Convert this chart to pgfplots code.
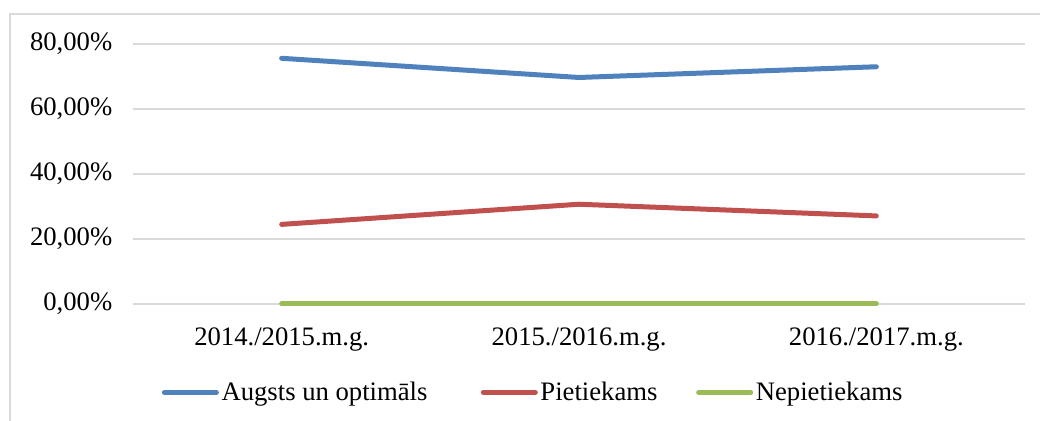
\documentclass[border=0pt]{standalone}
\usepackage{fontspec}
\setmainfont{Liberation Serif}
\usepackage{pgfplots}
\pgfplotsset{compat=1.18}
\definecolor{cblue}{HTML}{4F81BD}
\definecolor{cred}{HTML}{C0504D}
\definecolor{cgreen}{HTML}{9BBB59}
\definecolor{cgrid}{HTML}{D9D9D9}
\begin{document}
\begin{tikzpicture}
\path[use as bounding box] (0pt,0pt) rectangle (780pt,315.75pt);
\draw[cgrid, line width=1.5pt] (7.5pt,0pt) -- (7.5pt,305.25pt) -- (780pt,305.25pt);
\begin{axis}[
  at={(99.75pt,87.75pt)}, anchor=south west,
  scale only axis, width=669pt, height=195pt,
  xmin=-0.5, xmax=2.5, ymin=0, ymax=80,
  xtick={0,1,2},
  xticklabels={2014./2015.m.g.,2015./2016.m.g.,2016./2017.m.g.},
  ytick={0,20,40,60,80},
  yticklabels={{0,00\%},{20,00\%},{40,00\%},{60,00\%},{80,00\%}},
  axis line style={draw=none},
  major tick length=0pt,
  ymajorgrids, grid style={cgrid, line width=1.5pt},
  tick label style={font=\fontsize{20}{24}\selectfont},
  yticklabel style={xshift=-12pt},
  xticklabel style={yshift=-14pt},
  clip=false,
  legend columns=3,
  legend style={draw=none, fill=none, at={(0.449,-0.34)}, anchor=center,
    font=\fontsize{20}{24}\selectfont,
    /tikz/column 2/.style={column sep=38pt},
    /tikz/column 4/.style={column sep=27pt}},
  legend image code/.code={\draw[#1, line cap=round] (0pt,0pt) -- (39pt,0pt);},
]
\addplot[cblue, line width=3.75pt, line cap=round, line join=round] coordinates {(0,75.6) (1,69.7) (2,73.0)};
\addlegendentry{Augsts un optimāls}
\addplot[cred, line width=3.75pt, line cap=round, line join=round] coordinates {(0,24.5) (1,30.7) (2,27.1)};
\addlegendentry{Pietiekams}
\addplot[cgreen, line width=3.75pt, line cap=round, line join=round] coordinates {(0,0) (1,0) (2,0)};
\addlegendentry{Nepietiekams}
\end{axis}
\end{tikzpicture}
\end{document}
